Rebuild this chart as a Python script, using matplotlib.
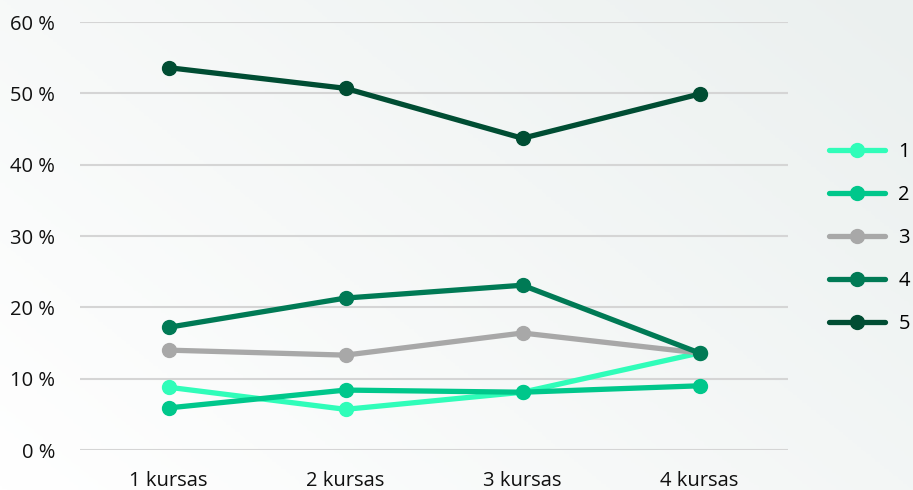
import matplotlib.pyplot as plt
import numpy as np
from matplotlib.colors import LinearSegmentedColormap

plt.rcParams['font.family'] = ['Open Sans', 'DejaVu Sans']

# --- DATA ---
courses = ['1 kursas', '2 kursas', '3 kursas', '4 kursas']
series_names = ['1', '2', '3', '4', '5']
s1 = [8.8, 5.7, 8.1, 13.6]
s2 = [5.9, 8.4, 8.1, 9.0]
s3 = [14.0, 13.3, 16.4, 13.6]
s4 = [17.2, 21.3, 23.1, 13.6]
s5 = [53.6, 50.7, 43.7, 49.9]
colors = ['#30FDB9', '#00C78B', '#A8A8A8', '#007A55', '#004D33']

fig = plt.figure(figsize=(9.13, 4.9), dpi=100)

# background gradient (white bottom-left -> light grey-green top-right)
bg = fig.add_axes([0, 0, 1, 1], zorder=-10)
gx, gy = np.meshgrid(np.linspace(0, 1, 200), np.linspace(0, 1, 200))
grad = np.clip(0.6 * gx + 0.4 * (1 - gy), 0, 1)
cmap = LinearSegmentedColormap.from_list('bg', ['#FFFFFF', '#EBF0EF'])
bg.imshow(grad, cmap=cmap, aspect='auto', extent=[0, 1, 0, 1])
bg.axis('off')

ax = fig.add_axes([80 / 913, 1 - 450 / 490, (788 - 80) / 913, (450 - 22) / 490])
ax.patch.set_alpha(0)

x = np.arange(len(courses))
for vals, name, c in zip([s1, s2, s3, s4, s5], series_names, colors):
    ax.plot(x, vals, color=c, linewidth=3.8, marker='o', markersize=10,
            label=name, solid_capstyle='round')

ax.set_xlim(-0.5, 3.5)
ax.set_ylim(0, 60)
ax.set_yticks(range(0, 61, 10))
ax.set_yticklabels([f'{v} %' for v in range(0, 61, 10)])
ax.set_xticks(x)
ax.set_xticklabels(courses)
ax.grid(axis='y', color='#D5D5D5', linewidth=1.5)
ax.set_axisbelow(True)
for s in ax.spines.values():
    s.set_visible(False)
ax.tick_params(length=0, labelsize=14.5, colors='#111111')
ax.tick_params(axis='x', pad=15)
ax.tick_params(axis='y', pad=18)

ax.legend(loc='center left', bbox_to_anchor=(829 / 913, 1 - 238 / 490),
          bbox_transform=fig.transFigure, frameon=False, fontsize=14.5,
          borderpad=0, borderaxespad=0,
          handlelength=2.8, labelspacing=1.15, handletextpad=0.65)

fig.savefig('out.png', dpi=100)
